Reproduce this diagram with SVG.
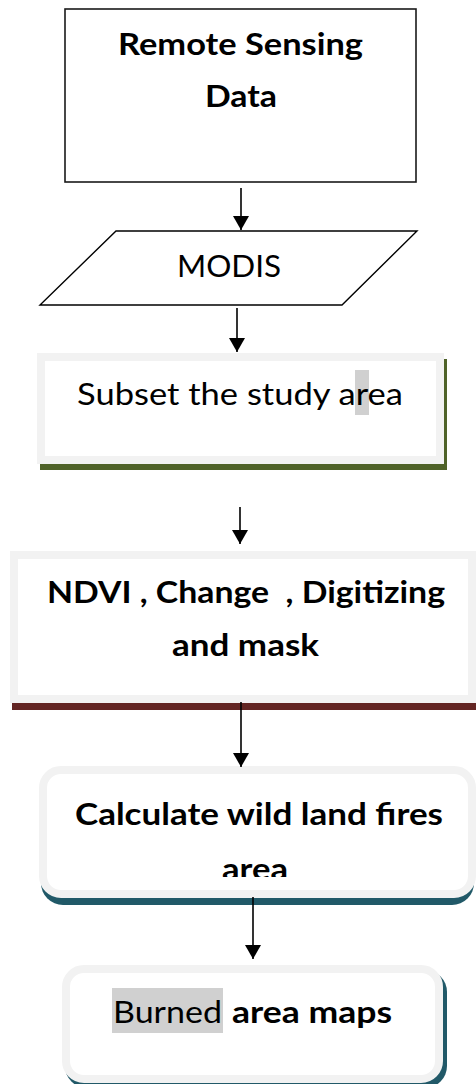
<svg xmlns="http://www.w3.org/2000/svg" width="476" height="1084" viewBox="0 0 476 1084">
<defs>
<marker id="ah" viewBox="0 0 14 16" markerUnits="userSpaceOnUse" markerWidth="14" markerHeight="16" refX="14" refY="8" orient="auto">
<path d="M0,0 L14,8 L0,16 z" fill="#000"/>
</marker>
<clipPath id="clipCalc"><rect x="0" y="760" width="476" height="117"/></clipPath>
</defs>
<style>
text{font-family:Lato,"Open Sans","Liberation Sans",sans-serif;font-size:30px;fill:#000}
.b{font-weight:bold}
.frame{fill:#fff;stroke:#f2f2f2;stroke-width:8}
.conn line{stroke:#000;stroke-width:1.6;marker-end:url(#ah)}
.hl{fill:#d0d0d0}
</style>
<rect width="476" height="1084" fill="#fff"/>

<g id="node-remote-sensing">
<rect x="65" y="9" width="351" height="173" fill="#fff" stroke="#1a1a1a" stroke-width="1.6"/>
<text class="b" x="240.5" y="55" text-anchor="middle" textLength="245" lengthAdjust="spacingAndGlyphs">Remote Sensing</text>
<text class="b" x="241" y="107" text-anchor="middle" textLength="72" lengthAdjust="spacingAndGlyphs">Data</text>
</g>

<g id="node-modis">
<polygon points="116,231 417,231 342,305 40,305" fill="#fff" stroke="#000" stroke-width="1.4"/>
<text x="229" y="277" text-anchor="middle" textLength="104" lengthAdjust="spacingAndGlyphs">MODIS</text>
</g>

<g id="node-subset">
<rect x="40" y="359" width="407" height="111" fill="#4f6228"/>
<rect class="frame" x="41" y="357" width="399" height="103"/>
<rect class="hl" x="355" y="370" width="14" height="45"/>
<text x="240" y="405" text-anchor="middle" textLength="326" lengthAdjust="spacingAndGlyphs">Subset the study area</text>
</g>

<g id="node-ndvi">
<rect x="12" y="558" width="466" height="152" fill="#632523"/>
<rect class="frame" x="14" y="555" width="458" height="144"/>
<text class="b" x="246" y="603" text-anchor="middle" textLength="398" lengthAdjust="spacingAndGlyphs" xml:space="preserve">NDVI , Change  , Digitizing</text>
<text class="b" x="245.5" y="656" text-anchor="middle" textLength="147" lengthAdjust="spacingAndGlyphs">and mask</text>
</g>

<g id="node-calculate">
<rect x="41" y="773" width="433" height="132" rx="22" fill="#215968"/>
<rect class="frame" x="43" y="770" width="429" height="124" rx="18"/>
<text class="b" x="259" y="825" text-anchor="middle" textLength="368" lengthAdjust="spacingAndGlyphs">Calculate wild land fires</text>
<g clip-path="url(#clipCalc)">
<text class="b" x="255" y="880" text-anchor="middle" textLength="66" lengthAdjust="spacingAndGlyphs">area</text>
</g>
</g>

<g id="node-burned">
<rect x="65" y="970" width="382" height="118" rx="22" fill="#215968"/>
<rect class="frame" x="66" y="969" width="373" height="110" rx="18"/>
<rect class="hl" x="112" y="988" width="111" height="45"/>
<text x="113" y="1023" textLength="109" lengthAdjust="spacingAndGlyphs">Burned</text>
<text class="b" x="232" y="1023" textLength="160" lengthAdjust="spacingAndGlyphs">area maps</text>
</g>

<g id="connectors" class="conn">
<line x1="241" y1="188" x2="241" y2="230"/>
<line x1="237" y1="308" x2="237" y2="352"/>
<line x1="240" y1="507" x2="240" y2="544"/>
<line x1="241" y1="702" x2="241" y2="767"/>
<line x1="253" y1="897" x2="253" y2="959"/>
</g>
</svg>
